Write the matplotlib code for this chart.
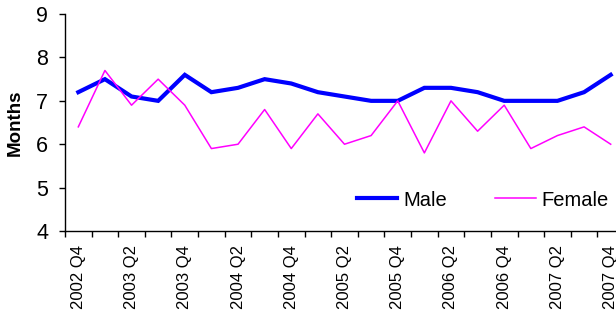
import matplotlib
matplotlib.use("Agg")
import matplotlib.pyplot as plt
import numpy as np

plt.rcParams['font.family'] = ['Liberation Sans', 'DejaVu Sans']

quarters = ['2002 Q4', '2003 Q1', '2003 Q2', '2003 Q3', '2003 Q4',
            '2004 Q1', '2004 Q2', '2004 Q3', '2004 Q4',
            '2005 Q1', '2005 Q2', '2005 Q3', '2005 Q4',
            '2006 Q1', '2006 Q2', '2006 Q3', '2006 Q4',
            '2007 Q1', '2007 Q2', '2007 Q3', '2007 Q4']
male = [7.2, 7.5, 7.1, 7.0, 7.6, 7.2, 7.3, 7.5, 7.4, 7.2, 7.1,
        7.0, 7.0, 7.3, 7.3, 7.2, 7.0, 7.0, 7.0, 7.2, 7.6]
female = [6.4, 7.7, 6.9, 7.5, 6.9, 5.9, 6.0, 6.8, 5.9, 6.7, 6.0,
          6.2, 7.0, 5.8, 7.0, 6.3, 6.9, 5.9, 6.2, 6.4, 6.0]

fig = plt.figure(figsize=(6.16, 3.13), dpi=100)
ax = fig.add_axes([0.1055, 0.262, 0.9075, 0.693])

x = np.arange(len(quarters))
ax.plot(x, male, color='#0000ff', lw=3.0, label='Male', solid_joinstyle='miter')
ax.plot(x, female, color='#ff00ff', lw=1.1, label='Female')

ax.set_xlim(-0.5, len(quarters) - 0.5)
ax.set_ylim(4, 9)
ax.set_yticks([4, 5, 6, 7, 8, 9])

# labels on every other quarter, tick marks between categories
ax.set_xticks(x[::2])
ax.set_xticklabels(quarters[::2], rotation=90, fontsize=12)
ax.set_xticks(np.arange(-0.5, len(quarters)), minor=True)
ax.tick_params(axis='x', which='major', length=0, pad=10)
ax.tick_params(axis='x', which='minor', length=4, width=1, direction='out')
ax.tick_params(axis='y', length=4, width=1, direction='out', pad=8, labelsize=15.5)

for s in ['top', 'right']:
    ax.spines[s].set_visible(False)
for s in ['left', 'bottom']:
    ax.spines[s].set_linewidth(1.0)

ax.set_ylabel('Months', fontsize=13.5, fontweight='bold')
ax.yaxis.set_label_coords(-0.073, 0.5)

fig.legend(loc='center', bbox_to_anchor=(0.784, 0.361), ncol=2, frameon=False,
           fontsize=14.5, handlelength=2.0, columnspacing=2.4, handletextpad=0.3)

fig.savefig('out.png', dpi=100)
